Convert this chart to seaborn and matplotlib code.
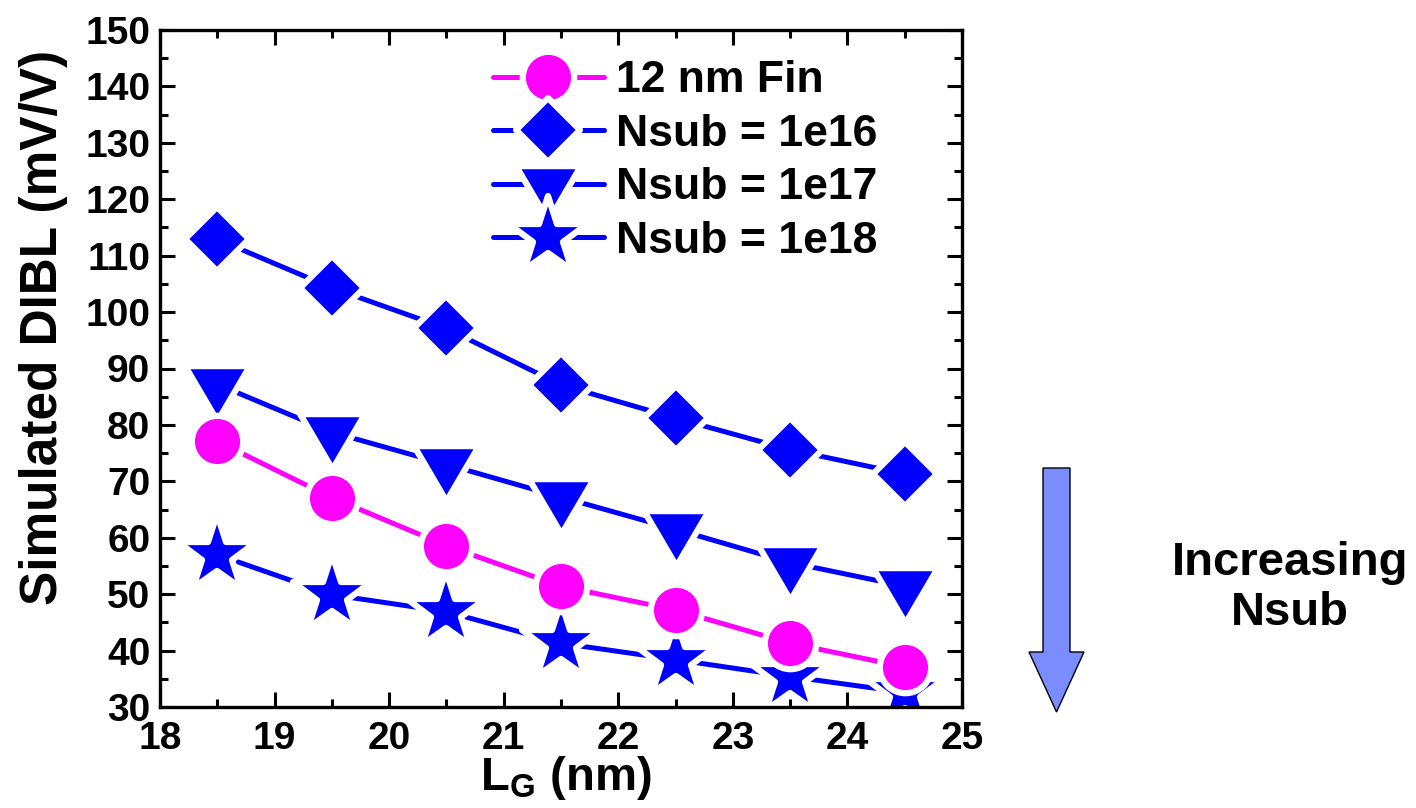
import numpy as np
import pandas as pd
import matplotlib
matplotlib.use("Agg")
import matplotlib.pyplot as plt
from matplotlib.path import Path
from matplotlib.markers import MarkerStyle
from matplotlib.patches import FancyArrow
from matplotlib.ticker import MultipleLocator
import seaborn as sns

# ---------------- data ----------------
lg_nm = [18.5, 19.5, 20.5, 21.5, 22.5, 23.5, 24.5]
fin_12nm = [77.1, 67.1, 58.6, 51.4, 47.2, 41.3, 37.1]
nsub_1e16 = [112.9, 104.3, 97.1, 87.1, 81.2, 75.6, 71.3]
nsub_1e17 = [87.2, 78.7, 73.0, 67.2, 61.5, 55.6, 51.4]
nsub_1e18 = [57.0, 49.9, 46.9, 41.3, 38.4, 35.4, 32.6]
series_names = ["12 nm Fin", "Nsub = 1e16", "Nsub = 1e17", "Nsub = 1e18"]
x_ticks = [18, 19, 20, 21, 22, 23, 24, 25]
y_ticks = [30, 40, 50, 60, 70, 80, 90, 100, 110, 120, 130, 140, 150]

df = pd.DataFrame({
    "LG": lg_nm * 4,
    "DIBL": fin_12nm + nsub_1e16 + nsub_1e17 + nsub_1e18,
    "series": sum([[n] * len(lg_nm) for n in series_names], []),
})

# ---------------- style ----------------
sns.set_style("ticks")
plt.rcParams["font.family"] = ["Liberation Sans", "DejaVu Sans"]
plt.rcParams["font.weight"] = "bold"
plt.rcParams["mathtext.fontset"] = "custom"
plt.rcParams["mathtext.bf"] = "Liberation Sans:bold"
plt.rcParams["mathtext.rm"] = "Liberation Sans:bold"
for k in ["text.color", "axes.labelcolor", "xtick.color", "ytick.color",
          "xtick.labelcolor", "ytick.labelcolor", "axes.edgecolor"]:
    plt.rcParams[k] = "black"

# Origin-like down triangle, centered on its centroid
tri_down = Path([(-27, 15.33), (27, 15.33), (0, -30.67), (-27, 15.33)],
                [Path.MOVETO, Path.LINETO, Path.LINETO, Path.CLOSEPOLY])

EW = 4.5
styles = {
    "12 nm Fin":   dict(color="#FF00FF", marker=MarkerStyle("o"), ms=37, z=6),
    "Nsub = 1e16": dict(color="#0000FF", marker=MarkerStyle("D", joinstyle="round"), ms=33, z=5),
    "Nsub = 1e17": dict(color="#0000FF", marker=MarkerStyle(tri_down, joinstyle="round"), ms=53, z=4),
    "Nsub = 1e18": dict(color="#0000FF", marker=MarkerStyle("*", joinstyle="round"), ms=59, z=3),
}

fig = plt.figure(figsize=(14.16, 8.08), dpi=100)
ax = fig.add_axes([160 / 1416, 1 - 707 / 808, (962 - 160) / 1416, (707 - 30) / 808])

for name in ["Nsub = 1e18", "Nsub = 1e17", "Nsub = 1e16", "12 nm Fin"]:
    st = styles[name]
    sub = df[df["series"] == name]
    sns.lineplot(data=sub, x="LG", y="DIBL", ax=ax, color=st["color"],
                 marker=st["marker"], markersize=st["ms"],
                 markeredgecolor="white", markeredgewidth=EW,
                 linewidth=3.6, solid_capstyle="round",
                 label=name, zorder=st["z"], sort=False)

ax.set_xlim(18, 25)
ax.set_ylim(30, 150)
ax.set_xticks(x_ticks)
ax.set_yticks(y_ticks)
ax.xaxis.set_minor_locator(MultipleLocator(0.5))
ax.yaxis.set_minor_locator(MultipleLocator(5))
ax.tick_params(which="both", direction="in", top=True, right=True,
               width=2.2, color="black", labelcolor="black")
ax.tick_params(which="major", length=11, labelsize=28)
ax.tick_params(axis="x", which="major", pad=10)
ax.tick_params(axis="y", which="major", pad=7)
ax.tick_params(which="minor", length=6)
for lab in ax.get_xticklabels() + ax.get_yticklabels():
    lab.set_fontweight("bold")
for sp in ax.spines.values():
    sp.set_linewidth(2.4)
    sp.set_color("black")
    sp.set_visible(True)
    sp.set_zorder(10)

ax.set_ylabel("Simulated DIBL (mV/V)", fontsize=37, fontweight="bold", color="black")
ax.yaxis.set_label_coords(-0.115, 0.561)
ax.set_xlabel(r"L$_{\mathbf{G}}$ (nm)", fontsize=34, fontweight="bold", color="black")
ax.xaxis.set_label_coords(0.506, -0.07)

handles, labels = ax.get_legend_handles_labels()
order = [labels.index(n) for n in series_names]
leg = ax.legend([handles[i] for i in order], [labels[i] for i in order],
                loc="upper left", bbox_to_anchor=(0.415, 0.955), frameon=False,
                fontsize=32, handlelength=2.5, handletextpad=0.27,
                labelspacing=0.28, borderpad=0, borderaxespad=0)
for t in leg.get_texts():
    t.set_fontweight("bold")
    t.set_color("black")

# annotation arrow and text
arrow = FancyArrow(1056.5 / 1416, (808 - 468) / 808, 0, -(712 - 468) / 808,
                   width=27 / 1416, head_width=55 / 1416, head_length=60 / 808,
                   length_includes_head=True, transform=fig.transFigure,
                   facecolor="#7B8CFF", edgecolor="black", linewidth=1)
fig.add_artist(arrow)
fig.text(1290 / 1416, 1 - 588 / 808, "Increasing\nNsub", ha="center", va="center",
         fontsize=34, fontweight="bold", linespacing=1.15, color="black")

fig.savefig("out.png", dpi=100)
